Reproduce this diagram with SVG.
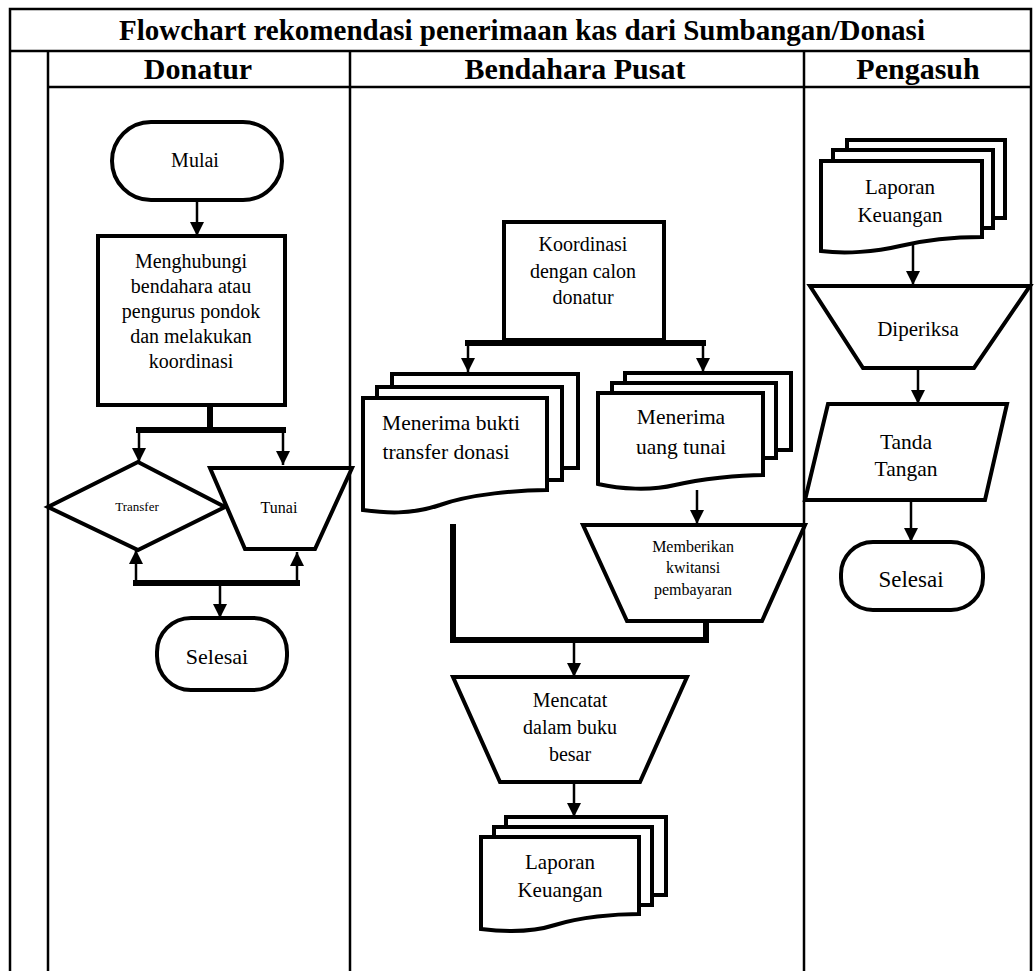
<svg xmlns="http://www.w3.org/2000/svg" width="1034" height="971" viewBox="0 0 1034 971">
  <defs>
    <marker id="arrow" viewBox="0 0 14 14" refX="14" refY="7" markerWidth="14" markerHeight="14" orient="auto" markerUnits="userSpaceOnUse">
      <path d="M0,0 L14,7 L0,14 z" fill="#000"/>
    </marker>
  </defs>
  <style>
    .grid { stroke: #000; stroke-width: 2.5; fill: none; }
    .shape { fill: #fff; stroke: #000; stroke-width: 4; stroke-linejoin: miter; }
    .arrow { stroke: #000; stroke-width: 2.5; fill: none; marker-end: url(#arrow); }
    .bar { stroke: #000; stroke-width: 6; fill: none; stroke-linecap: square; }
    text { font-family: "Liberation Serif", "Times New Roman", serif; text-anchor: middle; fill: #000; }
    .title { font-weight: bold; font-size: 29px; }
    .lane { font-weight: bold; font-size: 30px; }
    .t20 { font-size: 20px; }
    .t21 { font-size: 21px; }
    .t215 { font-size: 21.5px; }
    .t16 { font-size: 16px; }
    .t13 { font-size: 13px; }
  </style>

  <rect width="1034" height="971" fill="#fff"/>

  <!-- swimlane table -->
  <g id="table">
    <path class="grid" d="M10,971 V9 H1031 V971"/>
    <line class="grid" x1="10" y1="51" x2="1031" y2="51"/>
    <line class="grid" x1="48" y1="87" x2="1031" y2="87"/>
    <line class="grid" x1="48" y1="51" x2="48" y2="971"/>
    <line class="grid" x1="350" y1="51" x2="350" y2="971"/>
    <line class="grid" x1="804" y1="51" x2="804" y2="971"/>
    <text class="title" x="522" y="40">Flowchart rekomendasi penerimaan kas dari Sumbangan/Donasi</text>
    <text class="lane" x="198" y="79">Donatur</text>
    <text class="lane" x="575" y="79">Bendahara Pusat</text>
    <text class="lane" x="918" y="79">Pengasuh</text>
  </g>

  <!-- connectors -->
  <g id="connectors">
    <!-- Donatur -->
    <line class="arrow" x1="197" y1="200" x2="197" y2="236"/>
    <line class="bar" x1="210" y1="407" x2="210" y2="430"/>
    <line class="bar" x1="139" y1="430" x2="283" y2="430"/>
    <line class="arrow" x1="139" y1="430" x2="139" y2="462"/>
    <line class="arrow" x1="283" y1="430" x2="283" y2="465"/>
    <line class="bar" x1="136" y1="583" x2="297" y2="583"/>
    <line class="arrow" x1="136" y1="583" x2="136" y2="550"/>
    <line class="arrow" x1="297" y1="583" x2="297" y2="552"/>
    <line class="arrow" x1="220" y1="583" x2="220" y2="618"/>
    <!-- Bendahara Pusat -->
    <line class="bar" x1="586" y1="323" x2="586" y2="343"/>
    <line class="bar" x1="468" y1="343" x2="703" y2="343"/>
    <line class="arrow" x1="468" y1="343" x2="468" y2="372"/>
    <line class="arrow" x1="703" y1="343" x2="703" y2="372"/>
    <line class="arrow" x1="697" y1="490" x2="697" y2="524"/>
    <line class="bar" x1="453" y1="527" x2="453" y2="640"/>
    <line class="bar" x1="453" y1="640" x2="706" y2="640"/>
    <line class="bar" x1="706" y1="622" x2="706" y2="640"/>
    <line class="arrow" x1="574" y1="640" x2="574" y2="677"/>
    <line class="arrow" x1="574" y1="782" x2="574" y2="817"/>
    <!-- Pengasuh -->
    <line class="arrow" x1="913" y1="238" x2="913" y2="285"/>
    <line class="arrow" x1="918" y1="368" x2="918" y2="404"/>
    <line class="arrow" x1="911" y1="500" x2="911" y2="542"/>
  </g>

  <!-- Donatur lane -->
  <g id="mulai">
    <rect class="shape" x="112" y="122" width="170" height="78" rx="39"/>
    <text class="t20" x="195" y="167">Mulai</text>
  </g>
  <g id="menghubungi">
    <rect class="shape" x="98" y="236" width="187" height="169"/>
    <text class="t20" x="191" y="268">Menghubungi</text>
    <text class="t20" x="191" y="293">bendahara atau</text>
    <text class="t20" x="191" y="318">pengurus pondok</text>
    <text class="t20" x="191" y="343">dan melakukan</text>
    <text class="t20" x="191" y="368">koordinasi</text>
  </g>
  <g id="transfer">
    <polygon class="shape" points="138,462 225,507 138,550 48,507"/>
    <text class="t13" x="137" y="511">Transfer</text>
  </g>
  <g id="tunai">
    <polygon class="shape" points="210,468 352,468 315,549 245,549"/>
    <text class="t16" x="279" y="513">Tunai</text>
  </g>
  <g id="selesai-donatur">
    <rect class="shape" x="157" y="618" width="130" height="72" rx="34"/>
    <text x="217" y="664" style="font-size:22px">Selesai</text>
  </g>

  <!-- Bendahara Pusat lane -->
  <g id="koordinasi">
    <rect class="shape" x="504" y="222" width="160" height="118"/>
    <text class="t20" x="583" y="251">Koordinasi</text>
    <text class="t20" x="583" y="278">dengan calon</text>
    <text class="t20" x="583" y="304">donatur</text>
  </g>
  <g id="bukti-transfer">
    <rect class="shape" x="392" y="374" width="186" height="94"/>
    <rect class="shape" x="377" y="387" width="185" height="93"/>
    <path class="shape" d="M363,398 H547 V490 C520,490 470,494 440,505 C410,515 385,513 363,510 Z"/>
    <text class="t215" x="451" y="430">Menerima bukti</text>
    <text class="t215" x="446" y="459">transfer donasi</text>
  </g>
  <g id="uang-tunai">
    <rect class="shape" x="625" y="373" width="166" height="77"/>
    <rect class="shape" x="612" y="383" width="164" height="75"/>
    <path class="shape" d="M598,393 H763 V475 C740,475 700,479 675,485 C650,491 620,489 598,484 Z"/>
    <text class="t215" x="681" y="424">Menerima</text>
    <text class="t215" x="681" y="454">uang tunai</text>
  </g>
  <g id="kwitansi">
    <polygon class="shape" points="583,525 805,525 762,621 627,621"/>
    <text class="t16" x="693" y="552">Memberikan</text>
    <text class="t16" x="693" y="573">kwitansi</text>
    <text class="t16" x="693" y="595">pembayaran</text>
  </g>
  <g id="mencatat">
    <polygon class="shape" points="453,677 687,677 640,782 500,782"/>
    <text class="t20" x="570" y="707">Mencatat</text>
    <text class="t20" x="570" y="734">dalam buku</text>
    <text class="t20" x="570" y="761">besar</text>
  </g>
  <g id="laporan-bendahara">
    <rect class="shape" x="506" y="817" width="160" height="78"/>
    <rect class="shape" x="494" y="827" width="158" height="78"/>
    <path class="shape" d="M481,837 H639 V914 C615,914 580,917 555,925 C530,933 505,932 481,929 Z"/>
    <text class="t21" x="560" y="869">Laporan</text>
    <text class="t21" x="560" y="897">Keuangan</text>
  </g>

  <!-- Pengasuh lane -->
  <g id="laporan-pengasuh">
    <rect class="shape" x="847" y="140" width="158" height="78"/>
    <rect class="shape" x="833" y="150" width="160" height="78"/>
    <path class="shape" d="M821,161 H982 V237 C958,237 925,240 900,246 C875,252 845,254 821,251 Z"/>
    <text class="t21" x="900" y="194">Laporan</text>
    <text class="t21" x="900" y="222">Keuangan</text>
  </g>
  <g id="diperiksa">
    <polygon class="shape" points="810,286 1030,286 974,368 863,368"/>
    <text class="t21" x="918" y="336">Diperiksa</text>
  </g>
  <g id="tanda-tangan">
    <polygon class="shape" points="828,404 1007,404 985,500 805,500"/>
    <text class="t215" x="906" y="449">Tanda</text>
    <text class="t215" x="906" y="476">Tangan</text>
  </g>
  <g id="selesai-pengasuh">
    <rect class="shape" x="841" y="542" width="142" height="68" rx="32"/>
    <text x="911" y="587" style="font-size:23px">Selesai</text>
  </g>
</svg>
